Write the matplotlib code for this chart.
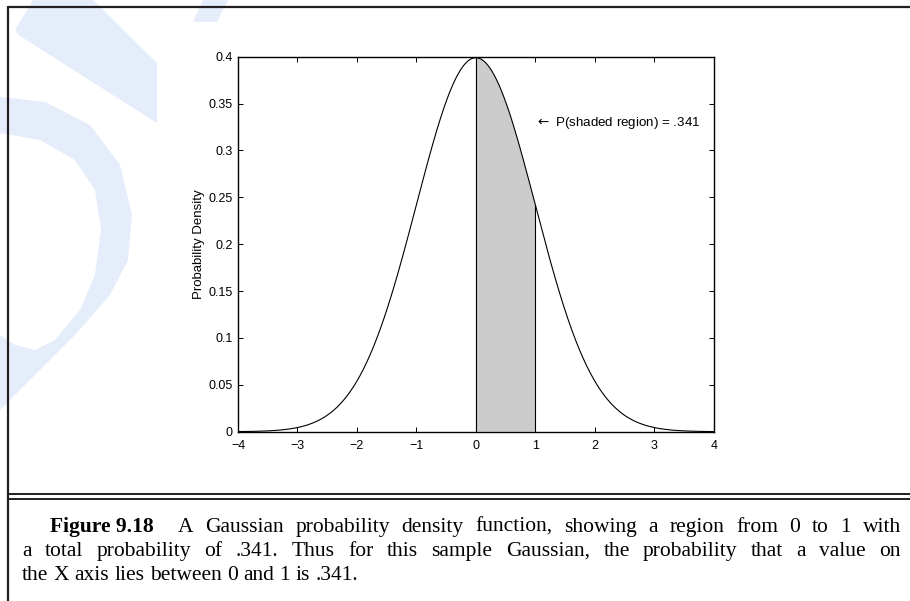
import numpy as np
import matplotlib
matplotlib.use("Agg")
import matplotlib.pyplot as plt
from matplotlib.patches import Polygon

# gaussian shown in the chart
mu = 0.0
sigma = 1.0
x_range = [-4, 4]
shade_from, shade_to = 0, 1
p_shaded = ".341"

x_ticks = [-4, -3, -2, -1, 0, 1, 2, 3, 4]
y_ticks = [0, 0.05, 0.1, 0.15, 0.2, 0.25, 0.3, 0.35, 0.4]
y_tick_labels = ["0", "0.05", "0.1", "0.15", "0.2", "0.25", "0.3", "0.35", "0.4"]

caption_1 = "A Gaussian probability density function, showing a region from 0 to 1 with"
caption_2 = "a total probability of .341.  Thus for this sample Gaussian, the probability that a value on"
caption_3 = "the X axis lies between 0 and 1 is .341."


def pdf(x):
    return np.exp(-0.5 * ((x - mu) / sigma) ** 2) / (sigma * np.sqrt(2 * np.pi))


fig = plt.figure(figsize=(9.10, 6.01), dpi=100)
fig.patch.set_facecolor("white")

# background layer in pixel coordinates (watermark, frame, caption)
bg = fig.add_axes([0, 0, 1, 1], zorder=0)
bg.set_xlim(0, 910)
bg.set_ylim(601, 0)
bg.axis("off")

wm = "#e5ecfa"
shapes = [
    [(33, 0), (93, 0), (157, 63), (157, 123), (20, 36), (15, 30)],
    [(193, 22), (217, 22), (228, 0), (203, 0)],
    [(0, 97), (45, 102), (90, 125), (120, 165), (132, 215), (128, 260), (110, 295),
     (75, 335), (35, 375), (0, 410), (0, 335), (15, 345), (35, 350), (55, 340),
     (80, 310), (95, 275), (101, 230), (95, 190), (75, 160), (40, 140), (0, 133)],
]
for s in shapes:
    bg.add_patch(Polygon(s, closed=True, facecolor=wm, edgecolor="none"))

frame = "#231f20"
bg.plot([8, 910], [7, 7], color=frame, lw=1.6, solid_capstyle="butt")
bg.plot([8, 8], [6, 601], color=frame, lw=1.6, solid_capstyle="butt")
bg.plot([8, 910], [494, 494], color=frame, lw=1.4, solid_capstyle="butt")
bg.plot([8, 910], [498.5, 498.5], color=frame, lw=1.4, solid_capstyle="butt")

# caption, justified by hand
renderer = fig.canvas.get_renderer()
serif = "Liberation Serif"
cap_size = 15.5


def place_words(words, x0, x1, y, justify=True):
    texts = [bg.text(0, y, w, fontsize=cap_size, family=serif, va="baseline", ha="left")
             for w in words]
    widths = [t.get_window_extent(renderer).width for t in texts]
    if justify and len(words) > 1:
        gap = (x1 - x0 - sum(widths)) / (len(words) - 1)
    else:
        sp = bg.text(0, y, "a a", fontsize=cap_size, family=serif)
        aa = bg.text(0, y, "aa", fontsize=cap_size, family=serif)
        gap = sp.get_window_extent(renderer).width - aa.get_window_extent(renderer).width
        sp.remove()
        aa.remove()
    x = x0
    for t, w in zip(texts, widths):
        t.set_x(x)
        x += w + gap


left = 22
right = 901
fig_lbl = bg.text(50, 532, "Figure 9.18", fontsize=cap_size, family=serif,
                  fontweight="bold", va="baseline", ha="left")
lbl_end = 50 + fig_lbl.get_window_extent(renderer).width
place_words(caption_1.split(), lbl_end + 24, right, 532)
place_words(caption_2.split(), left, right, 556)
place_words(caption_3.split(), left, right, 580, justify=False)

# the chart itself
ax = fig.add_axes([238 / 910, (601 - 431.7) / 601, 475.7 / 910, 375 / 601], zorder=1)
ax.set_facecolor("white")

xs = np.linspace(x_range[0], x_range[1], 801)
ax.plot(xs, pdf(xs), color="black", lw=0.8)

xf = np.linspace(shade_from, shade_to, 201)
ax.fill_between(xf, 0, pdf(xf), facecolor="#cccccc", edgecolor="none")
ax.plot([shade_from, shade_from], [0, pdf(shade_from)], color="black", lw=0.8)
ax.plot([shade_to, shade_to], [0, pdf(shade_to)], color="black", lw=0.8)

ax.text(1.0, 0.329, r"$\leftarrow$ P(shaded region) = " + p_shaded, fontsize=9.6,
        family="Liberation Sans", va="center", ha="left")

ax.set_xlim(x_range)
ax.set_ylim(0, 0.4)
ax.set_xticks(x_ticks)
ax.set_yticks(y_ticks)
ax.set_yticklabels(y_tick_labels)
ax.tick_params(direction="in", length=3.5, width=0.7, top=True, right=True,
               labelsize=9, pad=4)
ax.tick_params(axis="x", pad=6)
for lab in ax.get_xticklabels() + ax.get_yticklabels():
    lab.set_family("Liberation Sans")
for sp in ax.spines.values():
    sp.set_linewidth(1.0)
ax.set_ylabel("Probability Density", fontsize=9.5, family="Liberation Sans", labelpad=2)

fig.savefig("out.png", dpi=100)
